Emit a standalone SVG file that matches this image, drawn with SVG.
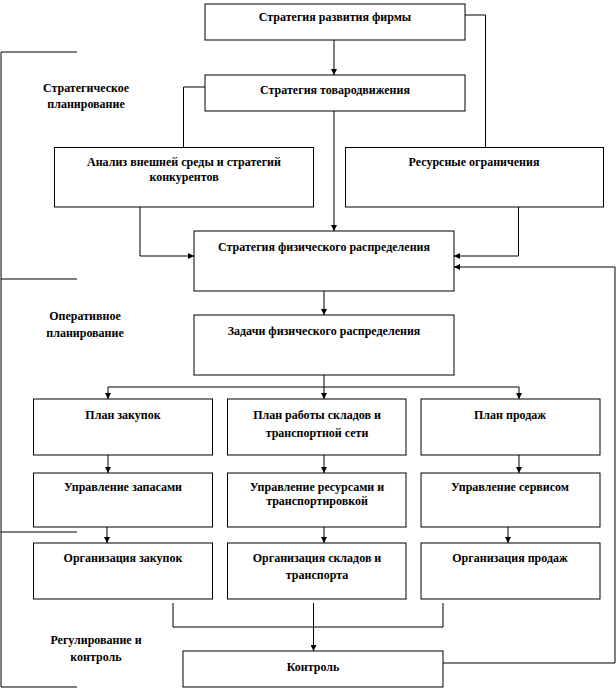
<svg xmlns="http://www.w3.org/2000/svg" width="616" height="690" viewBox="0 0 616 690" font-family="Liberation Serif, DejaVu Serif, serif">
<style>
.b{fill:#fff;stroke:#000;stroke-width:1}
.l{fill:none;stroke:#000;stroke-width:1}
.a{fill:none;stroke:#000;stroke-width:1;marker-end:url(#ar)}
text{font-weight:bold;font-size:12px;text-anchor:middle;fill:#000}
</style>
<defs>
<marker id="ar" markerWidth="6" markerHeight="6" refX="6" refY="3" orient="auto" markerUnits="userSpaceOnUse">
<path d="M0,0 L6,3 L0,6 Z" fill="#000"/>
</marker>
</defs>
<rect width="616" height="690" fill="#fff"/>
<g id="connectors">
<path class="l" d="M77,52 H1 V279 H77"/>
<path class="l" d="M1,279 V532 H77"/>
<path class="l" d="M1,532 V687 H77"/>
<path class="l" d="M465,15 H485.5 V148"/>
<path class="a" d="M334,40 V75"/>
<path class="l" d="M205,87 H183.5 V148"/>
<path class="a" d="M334,110 V231"/>
<path class="a" d="M140,207 V256 H194"/>
<path class="a" d="M518.5,207 V256 H454"/>
<path class="a" d="M443,663 H615 V267 H454"/>
<path class="a" d="M324,291 V315"/>
<path class="l" d="M324,375 V387 M108,387 H519"/>
<path class="a" d="M108,387 V399"/>
<path class="a" d="M324,387 V399"/>
<path class="a" d="M519,387 V399"/>
<path class="a" d="M108,455 V473"/>
<path class="a" d="M324,455 V473"/>
<path class="a" d="M519,455 V473"/>
<path class="a" d="M107,527 V543"/>
<path class="a" d="M324,527 V543"/>
<path class="a" d="M508,527 V543"/>
<path class="l" d="M173,603 V627 H443 V603"/>
<path class="a" d="M313.5,603 V651"/>
</g>
<g id="n1"><rect class="b" x="205" y="4" width="260" height="36"/><text x="335" y="21">Стратегия развития фирмы</text></g>
<g id="n2"><rect class="b" x="205" y="75" width="260" height="36"/><text x="335" y="94">Стратегия товародвижения</text></g>
<g id="lbl1"><text x="86" y="92">Стратегическое</text><text x="86" y="108">планирование</text></g>
<g id="n3"><rect class="b" x="54.5" y="147.5" width="259" height="59.5"/><text x="184" y="166">Анализ внешней среды и стратегий</text><text x="184" y="181">конкурентов</text></g>
<g id="n4"><rect class="b" x="345.5" y="147.5" width="258" height="59.5"/><text x="474" y="166">Ресурсные ограничения</text></g>
<g id="n5"><rect class="b" x="194" y="231" width="260" height="60"/><text x="324" y="251">Стратегия  физического распределения</text></g>
<g id="lbl2"><text x="85" y="320">Оперативное</text><text x="85" y="337">планирование</text></g>
<g id="n6"><rect class="b" x="194" y="315" width="260" height="60"/><text x="324" y="335">Задачи физического распределения</text></g>
<g id="n7"><rect class="b" x="33.5" y="399" width="179" height="56"/><text x="123" y="419">План закупок</text></g>
<g id="n8"><rect class="b" x="227.5" y="399" width="178.5" height="56"/><text x="317" y="419">План работы складов и</text><text x="317" y="437">транспортной сети</text></g>
<g id="n9"><rect class="b" x="421" y="399" width="179" height="56"/><text x="510" y="419">План продаж</text></g>
<g id="n10"><rect class="b" x="33.5" y="473" width="179" height="54"/><text x="123" y="491">Управление запасами</text></g>
<g id="n11"><rect class="b" x="227.5" y="473" width="178.5" height="54"/><text x="317" y="491">Управление ресурсами и</text><text x="317" y="505">транспортировкой</text></g>
<g id="n12"><rect class="b" x="421" y="473" width="179" height="54"/><text x="510" y="491">Управление сервисом</text></g>
<g id="n13"><rect class="b" x="33.5" y="543" width="179" height="56"/><text x="123" y="562">Организация  закупок</text></g>
<g id="n14"><rect class="b" x="227.5" y="543" width="178.5" height="56"/><text x="317" y="562">Организация складов и</text><text x="317" y="579">транспорта</text></g>
<g id="n15"><rect class="b" x="421" y="543" width="179" height="56"/><text x="510" y="562">Организация продаж</text></g>
<g id="lbl3"><text x="96" y="644">Регулирование и</text><text x="96" y="661">контроль</text></g>
<g id="n16"><rect class="b" x="183" y="651" width="260" height="36"/><text x="313" y="671">Контроль</text></g>
</svg>
